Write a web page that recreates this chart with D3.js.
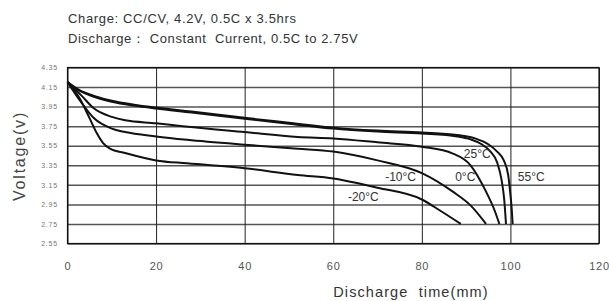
<!DOCTYPE html>
<html lang="en">
<head>
<meta charset="utf-8">
<title>Discharge curves</title>
<script src="https://cdn.jsdelivr.net/npm/d3@7"></script>
<style type="text/css">
body { margin: 0; background: #fff; }
text { font-family: "Liberation Sans", Arial, sans-serif; }
.grid-h line { stroke: #555; stroke-width: 1.5; }
.grid-v line { stroke: #222; stroke-width: 1; }
.curve { fill: none; stroke: #111; stroke-width: 2; }
</style>
</head>
<body>
<script type="text/javascript">
var w = 609, h = 301;

// data
var series = ["55°C", "25°C", "0°C", "-10°C", "-20°C"];
var xTicks = [0, 20, 40, 60, 80, 100, 120];
var yTicks = [2.55, 2.75, 2.95, 3.15, 3.35, 3.55, 3.75, 3.95, 4.15, 4.35];

var t55 = [0, 3, 6, 10, 15, 20, 28, 40, 50, 60, 70, 80, 88, 92, 95, 97, 98.5, 99.5, 100, 100.3, 100.5];
var v55 = [4.20, 4.11, 4.06, 4.01, 3.97, 3.94, 3.90, 3.835, 3.785, 3.735, 3.705, 3.685, 3.66, 3.625, 3.565, 3.49, 3.40, 3.25, 3.05, 2.90, 2.75];

var t25 = [0, 3, 6, 10, 15, 20, 28, 40, 50, 60, 70, 80, 88, 91, 93.5, 95.5, 97, 98, 98.6, 99];
var v25 = [4.20, 4.105, 4.05, 4.00, 3.96, 3.93, 3.89, 3.825, 3.775, 3.725, 3.695, 3.675, 3.645, 3.615, 3.565, 3.49, 3.38, 3.20, 3.00, 2.75];

var t0 = [0, 3, 6, 10, 13, 20, 26, 40, 52, 60, 70, 80, 87, 91, 94.5, 96.5, 97.5];
var v0 = [4.20, 4.07, 3.93, 3.845, 3.81, 3.78, 3.75, 3.69, 3.64, 3.625, 3.585, 3.54, 3.47, 3.35, 3.08, 2.88, 2.75];

var tm10 = [0, 3, 6, 10, 13, 20, 27, 40, 52, 60, 70, 80, 87, 91, 94.5];
var vm10 = [4.20, 4.00, 3.83, 3.725, 3.69, 3.645, 3.61, 3.56, 3.52, 3.49, 3.40, 3.27, 3.08, 2.94, 2.75];

var tm20 = [0, 2.8, 5, 6.6, 8, 9.6, 13, 20, 27, 40, 52, 60, 70, 80, 84, 88.8];
var vm20 = [4.20, 4.03, 3.83, 3.68, 3.58, 3.52, 3.475, 3.40, 3.37, 3.32, 3.25, 3.215, 3.12, 3.00, 2.89, 2.75];

// where each curve is labelled (time, voltage)
var labelT = [104.7, 92.5, 89.8, 75.2, 66.8];
var labelV = [3.23, 3.465, 3.23, 3.23, 3.025];

var times = [t55, t25, t0, tm10, tm20];
var volts = [v55, v25, v0, vm10, vm20];

var pLeft = 67.5, pRight = 599, pTop = 67.5, pBottom = 243.5;

var svg = d3.select("body")
            .append("svg")
            .attr("width", w)
            .attr("height", h);

var x = d3.scaleLinear().domain([0, 120]).range([pLeft, pRight]);
var y = d3.scaleLinear().domain([2.55, 4.35]).range([pBottom, pTop]);

// titles
svg.append("text")
   .attr("x", 68).attr("y", 22.5)
   .style("font-size", "13px").style("letter-spacing", "0.65px")
   .attr("fill", "#333")
   .text("Charge: CC/CV, 4.2V, 0.5C x 3.5hrs");
svg.append("text")
   .attr("x", 68).attr("y", 43)
   .style("font-size", "13px").style("letter-spacing", "0.6px")
   .style("white-space", "pre")
   .attr("fill", "#333")
   .text("Discharge\uFF1A Constant  Current, 0.5C to 2.75V");

// horizontal grid + y labels
var yAxis = d3.axisLeft(y)
              .tickValues(yTicks)
              .tickFormat(d3.format(".2f"))
              .tickSize(-(pRight - pLeft))
              .tickPadding(9.5);
var gy = svg.append("g")
            .attr("class", "grid-h")
            .attr("transform", "translate(" + pLeft + ",0)")
            .call(yAxis);
gy.select(".domain").remove();
gy.selectAll("text")
  .attr("fill", "#777")
  .style("font-size", "7px")
  .style("letter-spacing", "0.8px")
  .style("font-family", "'Liberation Sans', Arial, sans-serif");

// vertical grid + x labels
var xAxis = d3.axisBottom(x)
              .tickValues(xTicks)
              .tickSize(-(pBottom - pTop))
              .tickPadding(18.5);
var gx = svg.append("g")
            .attr("class", "grid-v")
            .attr("transform", "translate(0," + pBottom + ")")
            .call(xAxis);
gx.select(".domain").remove();
gx.selectAll("text")
  .attr("fill", "#555")
  .style("font-size", "11px")
  .style("letter-spacing", "0.8px")
  .style("font-family", "'Liberation Sans', Arial, sans-serif");

// plot border
svg.append("rect")
   .attr("x", pLeft).attr("y", pTop)
   .attr("width", pRight - pLeft).attr("height", pBottom - pTop)
   .attr("fill", "none")
   .attr("stroke", "#111")
   .attr("stroke-width", 1.2);

// curves
var line = d3.line()
             .x(function(d){ return x(d[0]); })
             .y(function(d){ return y(d[1]); })
             .curve(d3.curveMonotoneX);

series.forEach(function(name, i){
    var pts = times[i].map(function(t, j){ return [t, volts[i][j]]; });
    svg.append("path")
       .attr("class", "curve")
       .attr("d", line(pts));
    svg.append("text")
       .attr("x", x(labelT[i]))
       .attr("y", y(labelV[i]))
       .attr("dy", "0.35em")
       .attr("text-anchor", "middle")
       .attr("fill", "#333")
       .style("font-size", "12px")
       .text(name);
});

// axis titles
svg.append("text")
   .attr("x", 411).attr("y", 297)
   .attr("text-anchor", "middle")
   .attr("fill", "#333")
   .style("font-size", "14.5px")
   .style("letter-spacing", "1.1px")
   .style("white-space", "pre")
   .text("Discharge  time(mm)");

svg.append("text")
   .attr("transform", "translate(25,156) rotate(-90)")
   .attr("text-anchor", "middle")
   .attr("fill", "#444")
   .style("font-size", "16px")
   .style("letter-spacing", "1.8px")
   .text("Voltage(v)");
</script>
</body>
</html>
